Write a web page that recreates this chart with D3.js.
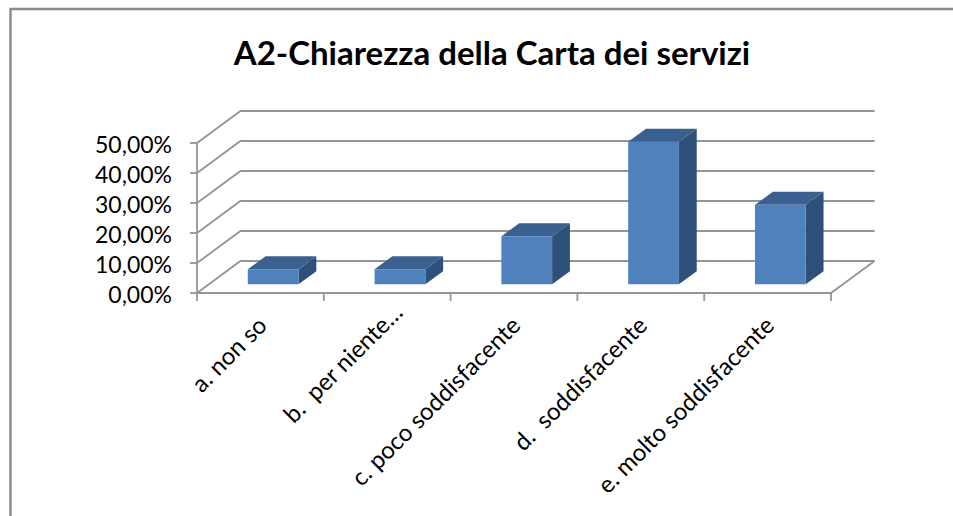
<!DOCTYPE html>
<html><head><meta charset="utf-8">
<script src="https://cdn.jsdelivr.net/npm/d3@7"></script>
<style>html,body{margin:0;padding:0;background:#fff;overflow:hidden}svg{display:block}text{white-space:pre}</style>
</head><body><div id="c"></div>
<script>
const categories=["a. non so","b.  per niente…","c. poco soddisfacente","d.  soddisfacente","e. molto soddisfacente"];
const values=[5,5,16,47.5,26.5];
const yTicks=[0,10,20,30,40,50];
const titleText="A2-Chiarezza della Carta dei servizi";

const W=953,H=516;
const svg=d3.select("#c").append("svg").attr("width",W).attr("height",H);
const x=d3.scaleBand().domain(categories).range([197,831]);
const y=d3.scaleLinear().domain([0,50]).range([293,143]);
const dx=d3.scaleLinear().domain([0,1]).range([0,43.5]);
const dy=d3.scaleLinear().domain([0,1]).range([0,-32]);
const grid="#959595";
const font="Lato, sans-serif";
const fmt=v=>v.toFixed(2).replace(".",",")+"%";

// chart frame
svg.append("path").attr("d",`M10.5,${H}V9H${W}`).attr("fill","none").attr("stroke","#8a8a8a").attr("stroke-width",2.4);

svg.append("text").attr("x",492).attr("y",65).attr("text-anchor","middle")
 .attr("font-family",font).attr("font-weight",700).attr("font-size",33).attr("fill","#000").text(titleText);

const x0=x.range()[0],x1=x.range()[1];
const g=svg.append("g").attr("fill","none").attr("stroke",grid).attr("stroke-width",1.8);
// gridlines: side wall + back wall
yTicks.forEach(t=>{
 g.append("path").attr("d",`M${x0},${y(t)}L${x0+dx(1)},${y(t)+dy(1)}H${x1+dx(1)}`);
 g.append("line").attr("x1",x0-7).attr("x2",x0).attr("y1",y(t)).attr("y2",y(t));
});
// floor edges
g.append("path").attr("d",`M${x0},${y(0)}H${x1}L${x1+dx(1)},${y(0)+dy(1)}`);
g.append("line").attr("x1",x0).attr("x2",x0).attr("y1",y(0)).attr("y2",y(50));
// category ticks
[...categories.map(c=>x(c)),x1].forEach(p=>g.append("line").attr("x1",p).attr("x2",p).attr("y1",y(0)).attr("y2",y(0)+8));

// y labels
svg.append("g").selectAll("text").data(yTicks).join("text")
 .attr("x",172).attr("y",t=>y(t)+10).attr("text-anchor","end")
 .attr("font-family",font).attr("font-size",23).attr("fill","#000").text(fmt);

// bars
const barFrac=0.4,front=0.27,depth=0.41;
const bars=svg.append("g").selectAll("g").data(categories.map((c,i)=>({c,v:values[i]}))).join("g");
const pt=(px,v,d)=>[px+dx(d),y(v)+dy(d)];
bars.each(function(d){
 const bw=x.bandwidth()*barFrac;
 const l=x(d.c)+x.bandwidth()/2-bw/2+dx(0)+1, r=l+bw;
 const s=d3.select(this), line=d3.line();
 s.append("path").attr("fill","#2f5079").attr("d",line([pt(r,0,front),pt(r,0,front+depth),pt(r,d.v,front+depth),pt(r,d.v,front)])+"Z");
 s.append("path").attr("fill","#3a6090").attr("d",line([pt(l,d.v,front),pt(r,d.v,front),pt(r,d.v,front+depth),pt(l,d.v,front+depth)])+"Z");
 s.append("path").attr("fill","#4f81bd").attr("d",line([pt(l,0,front),pt(r,0,front),pt(r,d.v,front),pt(l,d.v,front)])+"Z");
});

// category labels (the truncated label sits a little higher in the reference)
svg.append("g").selectAll("text").data(categories).join("text")
 .attr("text-anchor","end")
 .attr("transform",(c,i)=>`translate(${x(c)+x.bandwidth()/2+8+(i===1?9:0)},${y(0)+34-(i===1?13:0)}) rotate(-45)`)
 .attr("font-family",font).attr("font-size",24).attr("fill","#000").text(c=>c);
</script></body></html>
